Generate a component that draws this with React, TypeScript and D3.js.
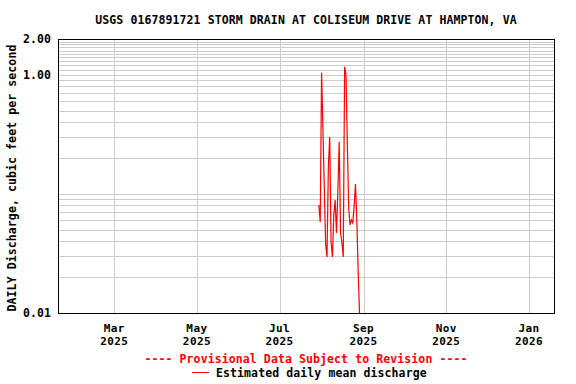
import React from "react";
import * as d3 from "d3";

const TITLE = "USGS 0167891721 STORM DRAIN AT COLISEUM DRIVE AT HAMPTON, VA";
const Y_LABEL = "DAILY Discharge, cubic feet per second";
const PROVISIONAL = "---- Provisional Data Subject to Revision ----";
const LEGEND_LABEL = "Estimated daily mean discharge";

// daily values starting 2025-07-30
const START_DATE = [2025, 6, 30];
const dischargeValues = [
  0.0808, 0.0582, 1.04, 0.345, 0.112, 0.038, 0.0296, 0.1686, 0.301, 0.0395,
  0.0296, 0.0666, 0.089, 0.047, 0.104, 0.2735, 0.047, 0.0389, 0.0296, 1.167,
  1.0, 0.268, 0.0763, 0.0549, 0.0605, 0.0573, 0.078, 0.121, 0.0605, 0.0221,
  0.01,
];

const yTickValues = [2.0, 1.0, 0.01];
const yTickLabels = ["2.00", "1.00", "0.01"];
const yGridValues = [
  0.02, 0.03, 0.04, 0.05, 0.06, 0.07, 0.08, 0.09,
  0.1, 0.2, 0.3, 0.4, 0.5, 0.6, 0.7, 0.8, 0.9,
  1.0, 1.1, 1.2, 1.3, 1.4, 1.5, 1.6, 1.7, 1.8, 1.9,
];
const xTickDates = [
  [2025, 2, 1],
  [2025, 4, 1],
  [2025, 6, 1],
  [2025, 8, 1],
  [2025, 10, 1],
  [2026, 0, 1],
];
const xTickMonths = ["Mar", "May", "Jul", "Sep", "Nov", "Jan"];
const xTickYears = ["2025", "2025", "2025", "2025", "2025", "2026"];

const W = 576;
const H = 384;
const L = 58;
const R = 554;
const T = 39;
const B = 313;

const FONT = "'DejaVu Sans Mono', 'Liberation Mono', monospace";

export default function App() {
  const x = d3
    .scaleUtc()
    .domain([new Date(Date.UTC(2025, 0, 18, 12)), new Date(Date.UTC(2026, 0, 19, 12))])
    .range([L, R]);
  const y = d3.scaleLog().domain([0.01, 2]).range([B, T]);

  const data = dischargeValues.map((v, i) => ({
    date: new Date(Date.UTC(START_DATE[0], START_DATE[1], START_DATE[2] + i)),
    value: v,
  }));
  const line = d3
    .line<{ date: Date; value: number }>()
    .x((d) => x(d.date))
    .y((d) => y(d.value));

  const txt = {
    fontFamily: FONT,
    fontWeight: "bold" as const,
    fontSize: 11.5,
    letterSpacing: 0.1,
  };
  const tickTxt = {
    fontFamily: FONT,
    fontWeight: "bold" as const,
    fontSize: 11,
    letterSpacing: 0.4,
  };

  return (
    <svg
      width={W}
      height={H}
      style={{ position: "fixed", left: 0, top: 0, background: "#fff" }}
    >
      <rect x={0} y={0} width={W} height={H} fill="#fff" />
      <text x={306} y={24} textAnchor="middle" {...txt} fill="#000">
        {TITLE}
      </text>
      <g shapeRendering="crispEdges">
        {yGridValues.map((v, i) => (
          <line
            key={"h" + i}
            x1={L}
            x2={R}
            y1={Math.round(y(v)) + 0.5}
            y2={Math.round(y(v)) + 0.5}
            stroke="#cccccc"
            strokeWidth={1}
          />
        ))}
        {xTickDates.map((d, i) => {
          const xx = Math.round(x(new Date(Date.UTC(d[0], d[1], d[2])))) + 0.5;
          return (
            <line key={"v" + i} x1={xx} x2={xx} y1={T} y2={B} stroke="#cccccc" strokeWidth={1} />
          );
        })}
      </g>
      <clipPath id="plotclip">
        <rect x={L} y={T} width={R - L} height={B - T + 1} />
      </clipPath>
      <path
        d={line(data) || ""}
        fill="none"
        stroke="#ff0000"
        strokeWidth={1.2}
        clipPath="url(#plotclip)"
      />
      <rect
        x={L + 0.5}
        y={T + 0.5}
        width={R - L}
        height={B - T}
        fill="none"
        stroke="#000"
        strokeWidth={1}
        shapeRendering="crispEdges"
      />
      {yTickValues.map((v, i) => (
        <text key={"yt" + i} x={51} y={y(v) + 4} textAnchor="end" {...txt} fill="#000">
          {yTickLabels[i]}
        </text>
      ))}
      <text
        transform={`translate(15.5,178) rotate(-90)`}
        textAnchor="middle"
        {...txt}
        fill="#000"
      >
        {Y_LABEL}
      </text>
      {xTickDates.map((d, i) => {
        const xx = x(new Date(Date.UTC(d[0], d[1], d[2])));
        return (
          <g key={"xt" + i}>
            <text x={xx} y={331.5} textAnchor="middle" {...tickTxt} fill="#000">
              {xTickMonths[i]}
            </text>
            <text x={xx} y={344.5} textAnchor="middle" {...tickTxt} fill="#000">
              {xTickYears[i]}
            </text>
          </g>
        );
      })}
      <text x={306} y={362.5} textAnchor="middle" {...txt} fill="#ff0000">
        {PROVISIONAL}
      </text>
      <line x1={192} x2={209} y1={372.5} y2={372.5} stroke="#ff0000" strokeWidth={1} shapeRendering="crispEdges" />
      <text x={216} y={376.5} textAnchor="start" {...txt} fill="#000">
        {LEGEND_LABEL}
      </text>
    </svg>
  );
}
